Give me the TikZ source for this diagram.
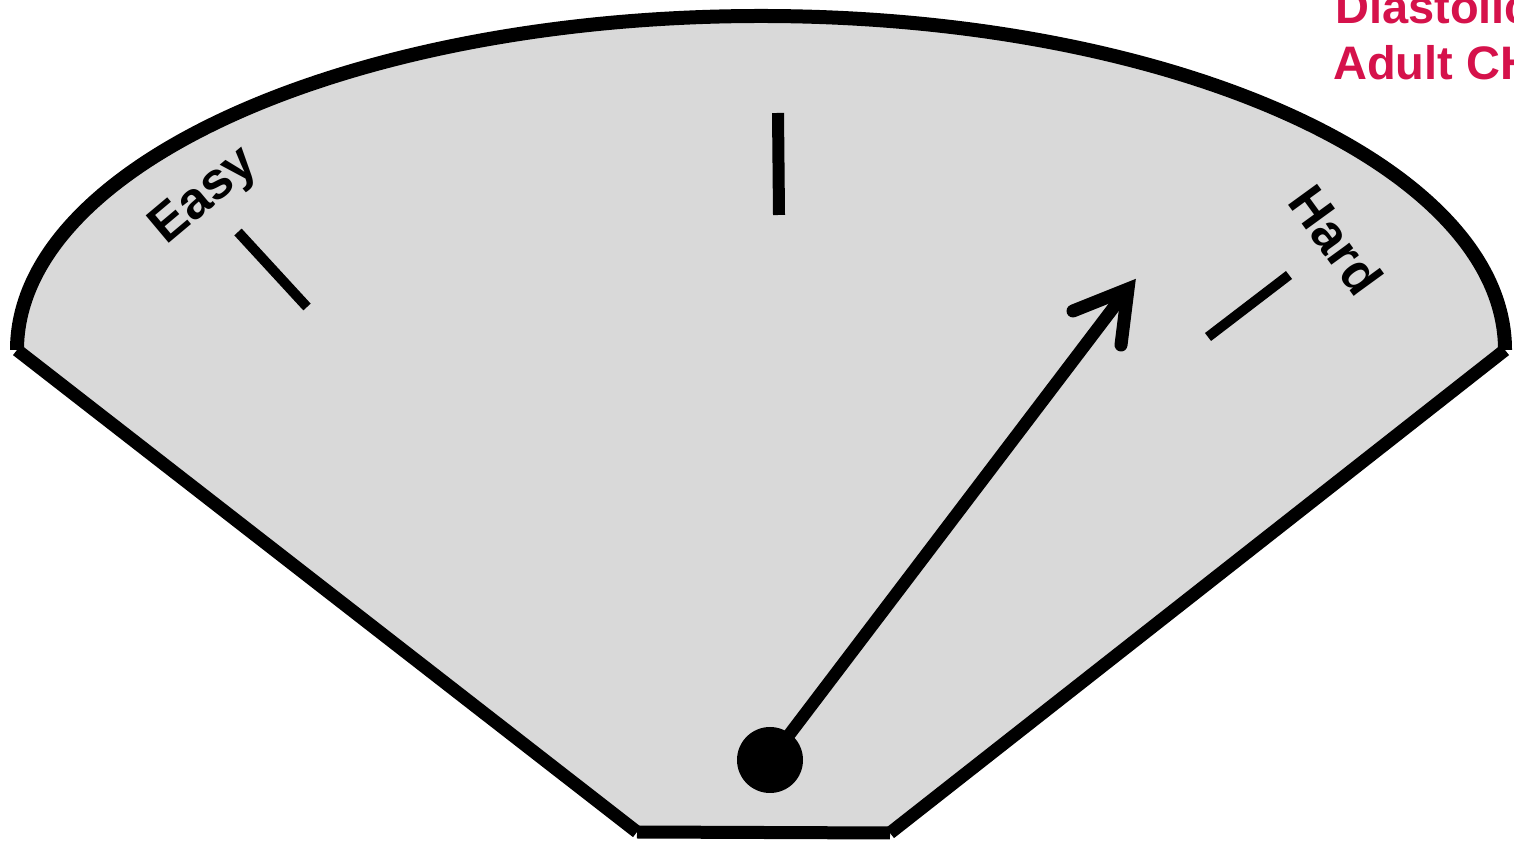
\documentclass[tikz,border=0pt]{standalone}
\usepackage{fontspec}
\setmainfont{Liberation Sans}
\definecolor{dialfill}{HTML}{D9D9D9}
\definecolor{titlered}{HTML}{D5124B}
\tikzset{
  outline/.style={line width=13pt, line cap=butt},
  tickmark/.style={line width=10pt, line cap=butt},
  needle/.style={line width=12.5pt},
  dialtext/.style={font=\fontsize{52}{60}\selectfont\bfseries, inner sep=0pt},
  titletext/.style={font=\fontsize{47}{54}\selectfont\bfseries, text=titlered, inner sep=0pt, anchor=base west}
}
\begin{document}
\begin{tikzpicture}[x=1pt,y=1pt]
\useasboundingbox (0,0) rectangle (1514,842);
\clip (0,0) rectangle (1514,842);
% key points
\coordinate (L) at (17,492);
\coordinate (R) at (1505,492);
\coordinate (BL) at (637,10);
\coordinate (BR) at (890,9);
% dial body
\fill[dialfill] (L) arc[start angle=180, end angle=0, x radius=744, y radius=334] -- (BR) -- (BL) -- cycle;
\draw[outline, line width=14pt] (L) arc[start angle=180, end angle=0, x radius=744, y radius=334];
\draw[outline] (L) -- (BL);
\draw[outline] (BL) -- (BR);
\draw[outline] (BR) -- (R);
% ticks
\coordinate (e1) at (238,610); \coordinate (e2) at (307,535);
\coordinate (m1) at (778,729); \coordinate (m2) at (779,627);
\coordinate (h1) at (1208,505); \coordinate (h2) at (1289,567);
\draw[tickmark] (e1) -- (e2);
\draw[tickmark, line width=12pt] (m1) -- (m2);
\draw[tickmark] (h1) -- (h2);
% labels
\node[dialtext, rotate=40] (easy) at (205,645) {Easy};
\node[dialtext, rotate=-54] (hard) at (1336,602) {Hard};
% needle
\node[circle, fill=black, minimum size=66pt, inner sep=0pt] (pivot) at (770,82) {};
\coordinate (tip) at (1128,553);
\coordinate (shaftend) at (1120,543);
\coordinate (arm1) at (1073,531);
\coordinate (arm2) at (1121,497);
\draw[needle] (pivot.center) -- (shaftend);
\draw[needle, line width=13pt, line cap=round, line join=miter] (arm1) -- (tip) -- (arm2);
% title (cut off at the page edge)
\node[titletext] (title1) at (1335,818) {Diastolic};
\node[titletext] (title2) at (1333,762) {Adult CH};
\end{tikzpicture}
\end{document}
